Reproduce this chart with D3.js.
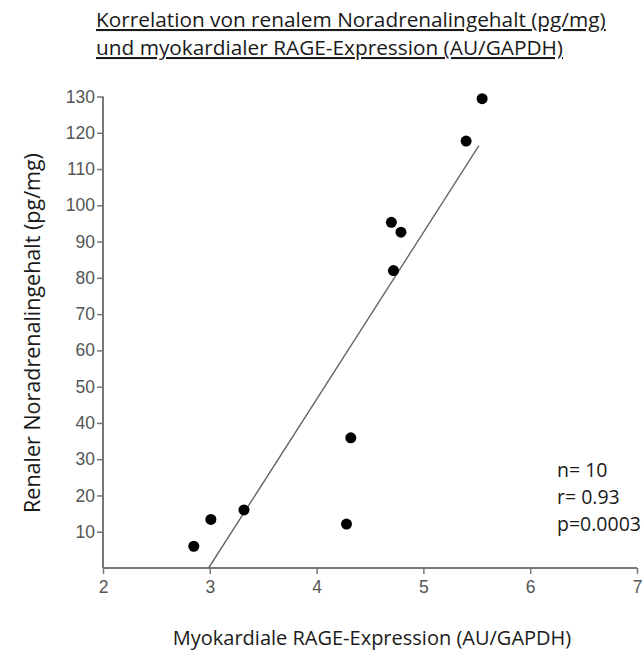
<!DOCTYPE html>
<html>
<head>
<meta charset="utf-8">
<script src="https://cdn.jsdelivr.net/npm/d3@7"></script>
<style>
  body { margin: 0; background: #fff; }
  .lbl { font-family: "Open Sans", sans-serif; fill: #1a1a1a; }
</style>
</head>
<body>
<svg width="643" height="650"></svg>
<script>
// RAGE expression (x) vs renal noradrenaline (y)
var rage = [2.85, 3.01, 3.32, 4.28, 4.32, 4.70, 4.79, 4.72, 5.40, 5.55];
var noradr = [6, 13.4, 16, 12.1, 35.9, 95.3, 92.6, 82, 117.7, 129.4];
var xTicks = [2, 3, 4, 5, 6, 7];
var yTicks = [10, 20, 30, 40, 50, 60, 70, 80, 90, 100, 110, 120, 130];
var stats = ["n= 10", "r= 0.93", "p=0.0003"];
var fitEnd = 5.52;

var svg = d3.select("svg");
var x = d3.scaleLinear().domain([2, 7]).range([103, 637]);
var y = d3.scaleLinear().domain([0, 130]).range([568, 96.5]);

var data = rage.map(function(v, i) { return { x: v, y: noradr[i] }; });

// title
var title = svg.append("g").attr("class", "lbl");
title.append("text").attr("x", 96).attr("y", 27)
    .style("font-size", "20.8px").style("text-decoration", "underline")
    .text("Korrelation von renalem Noradrenalingehalt (pg/mg)");
title.append("text").attr("x", 96).attr("y", 55)
    .style("font-size", "20.8px").style("text-decoration", "underline")
    .text("und myokardialer RAGE-Expression (AU/GAPDH)");

// axes
var xAxis = svg.append("g").attr("transform", "translate(0,568)")
    .call(d3.axisBottom(x).tickValues(xTicks).tickSize(6).tickPadding(7).tickFormat(d3.format("d")));
var yAxis = svg.append("g").attr("transform", "translate(103,0)")
    .call(d3.axisLeft(y).tickValues(yTicks).tickSize(6).tickPadding(2).tickFormat(d3.format("d")));
[xAxis, yAxis].forEach(function(a) {
  a.selectAll(".tick text")
      .style("font-family", "'Liberation Sans', Arial, sans-serif")
      .style("font-size", "17.5px")
      .attr("fill", "#555");
  a.select(".domain").attr("stroke", "#777").attr("stroke-width", 2);
  a.selectAll(".tick line").attr("stroke", "#777").attr("stroke-width", 1.5);
});
xAxis.select(".domain").attr("d", "M103,0H637");
yAxis.select(".domain").attr("d", "M0,96.5V568");

// regression line
var mx = d3.mean(rage), my = d3.mean(noradr);
var sxy = d3.sum(data, function(d) { return (d.x - mx) * (d.y - my); });
var sxx = d3.sum(data, function(d) { return (d.x - mx) * (d.x - mx); });
var slope = sxy / sxx, icpt = my - slope * mx;
var fitStart = -icpt / slope;
svg.append("line")
    .attr("x1", x(fitStart)).attr("y1", y(0))
    .attr("x2", x(fitEnd)).attr("y2", y(slope * fitEnd + icpt))
    .attr("stroke", "#666").attr("stroke-width", 1.4);

// points
svg.selectAll(".pt").data(data).enter().append("circle")
    .attr("class", "pt")
    .attr("cx", function(d) { return x(d.x); })
    .attr("cy", function(d) { return y(d.y); })
    .attr("r", 5.5)
    .attr("fill", "#000");

// axis labels
svg.append("text").attr("class", "lbl")
    .attr("transform", "translate(40,333) rotate(-90)")
    .attr("text-anchor", "middle").style("font-size", "21.5px")
    .text("Renaler Noradrenalingehalt (pg/mg)");
svg.append("text").attr("class", "lbl")
    .attr("x", 372).attr("y", 645)
    .attr("text-anchor", "middle").style("font-size", "20px")
    .text("Myokardiale RAGE-Expression (AU/GAPDH)");

// stats
svg.selectAll(".st").data(stats).enter().append("text")
    .attr("class", "lbl")
    .attr("x", 557)
    .attr("y", function(d, i) { return 477 + i * 27; })
    .style("font-size", "19.5px")
    .text(function(d) { return d; });
</script>
</body>
</html>
